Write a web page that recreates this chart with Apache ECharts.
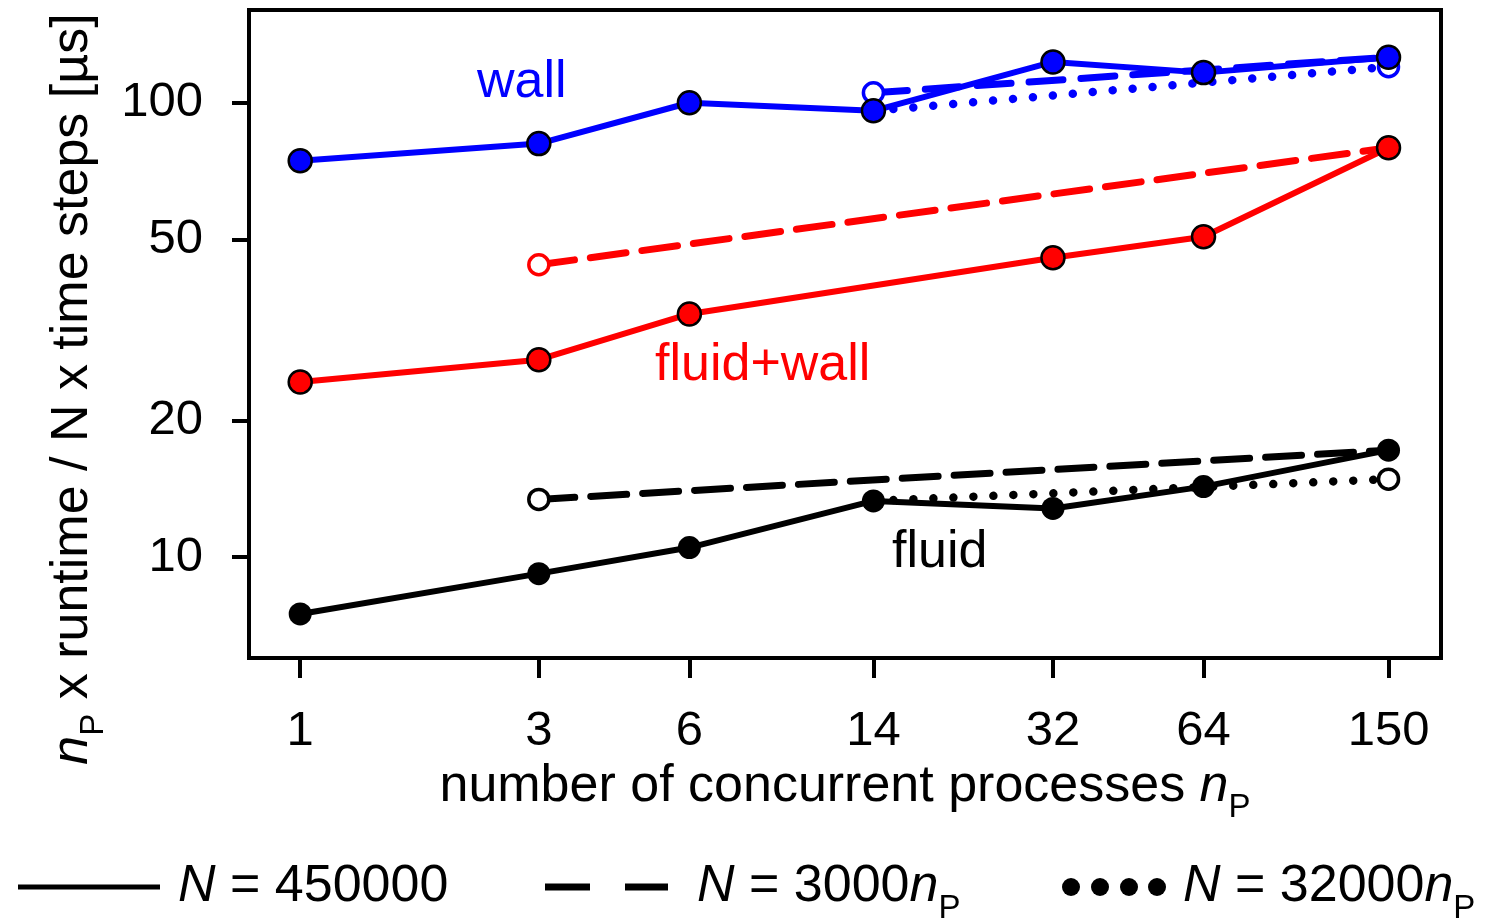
<!DOCTYPE html>
<html>
<head>
<meta charset="utf-8">
<script src="https://cdn.jsdelivr.net/npm/echarts@6/dist/echarts.min.js"></script>
<style>
html, body { margin: 0; padding: 0; background: #fff; }
#main { width: 1491px; height: 920px; }
</style>
</head>
<body>
<div id="main"></div>
<script>
// number of concurrent processes
var procs = [1, 3, 6, 14, 32, 64, 150];
var yTicks = [10, 20, 50, 100];

// N = 450000 (solid)
var fluidFixed = [7.5, 9.2, 10.5, 13.3, 12.8, 14.3, 17.2];
var fluidWallFixed = [24.3, 27.2, 34.3, null, 45.6, 50.7, 79.6];
var wallFixed = [74.5, 81.3, 100, 96, 123, 116.5, 126];

// N = 3000 nP (dashed) : [first, last] at procs given
var dashedProcs = { fluid: [3, 150], fluidWall: [3, 150], wall: [14, 150] };
var fluidDashed = [13.4, 17.2];
var fluidWallDashed = [44.0, 79.6];
var wallDashed = [105.2, 126];

// N = 32000 nP (dotted)
var dottedProcs = [14, 150];
var fluidDotted = [13.3, 14.85];
var wallDotted = [96, 120];

var BLUE = '#0000ff', RED = '#ff0000', BLACK = '#000000';

function pairs(xs, ys) {
    var out = [];
    for (var i = 0; i < xs.length; i++) {
        if (ys[i] != null) out.push([xs[i], ys[i]]);
    }
    return out;
}

function solid(name, ys, color) {
    return {
        name: name, type: 'line', data: pairs(procs, ys), z: 5,
        symbol: 'circle', symbolSize: 23,
        lineStyle: { color: color, width: 6 },
        itemStyle: { color: color, borderColor: '#000', borderWidth: color === BLACK ? 0 : 2.5 },
        animation: false
    };
}

// open circle on one end, nothing on the other
function broken(name, xs, ys, color, dash, width, openAt) {
    var d = pairs(xs, ys).map(function (p, i) {
        return { value: p, symbol: i === openAt ? 'circle' : 'none' };
    });
    return {
        name: name, type: 'line', data: d, z: 3,
        symbolSize: 20,
        lineStyle: { color: color, width: width, type: dash, cap: 'round' },
        itemStyle: { color: '#fff', borderColor: color, borderWidth: 3.5 },
        animation: false
    };
}

var myChart = echarts.init(document.getElementById('main'));

var font = 'Liberation Sans, Arial, sans-serif';
var FS = 52;
var rich = {
    i: { fontStyle: 'italic', fontSize: FS, fontFamily: font, color: '#000', padding: [0, 0, 12, 0], verticalAlign: 'bottom' },
    t: { fontSize: FS, fontFamily: font, color: '#000', padding: [0, 0, 12, 0], verticalAlign: 'bottom' },
    s: { fontSize: 33, fontFamily: font, color: '#000', verticalAlign: 'bottom', lineHeight: 34 }
};

var option = {
    backgroundColor: '#fff',
    grid: {
        left: 249, right: 50, top: 10, bottom: 262,
        show: true, borderColor: '#000', borderWidth: 4, backgroundColor: 'transparent'
    },
    xAxis: {
        type: 'log', logBase: 10, min: 0.79, max: 191,
        name: '{t|number of concurrent processes }{i|n}{s|P}',
        nameLocation: 'middle', nameGap: 98,
        nameTextStyle: { rich: rich },
        axisLine: { show: true, lineStyle: { color: '#000', width: 4 } },
        axisTick: { show: true, length: 20, lineStyle: { color: '#000', width: 4 }, customValues: procs },
        axisLabel: {
            customValues: procs, margin: 49, fontSize: 49, fontFamily: font, color: '#000',
            formatter: function (v) { return String(Math.round(v)); }
        },
        splitLine: { show: false },
        minorTick: { show: false }
    },
    yAxis: {
        type: 'log', logBase: 10, min: 6, max: 160,
        name: '{i|n}{s|P}{t| x runtime / N x time steps [µs]}',
        nameLocation: 'middle', nameGap: 128, nameRotate: 90,
        nameTextStyle: { rich: rich, padding: [0, 110, 0, 0] },
        axisLine: { show: true, lineStyle: { color: '#000', width: 4 } },
        axisTick: { show: true, length: 17, lineStyle: { color: '#000', width: 4 }, customValues: yTicks },
        axisLabel: {
            customValues: yTicks, margin: 46, fontSize: 49, fontFamily: font, color: '#000',
            formatter: function (v) { return String(Math.round(v)); }
        },
        splitLine: { show: false },
        minorTick: { show: false }
    },
    graphic: [
        { type: 'text', left: 477, top: 57, style: { text: 'wall', fill: BLUE, font: FS + 'px ' + font } },
        { type: 'text', left: 655, top: 340, style: { text: 'fluid+wall', fill: RED, font: FS + 'px ' + font } },
        { type: 'text', left: 892, top: 527, style: { text: 'fluid', fill: BLACK, font: FS + 'px ' + font } },
        // legend
        { type: 'line', shape: { x1: 18, y1: 887, x2: 160, y2: 887 }, style: { stroke: '#000', lineWidth: 5 } },
        { type: 'text', left: 178, top: 861, style: { text: '{i|N}{t| = 450000}', rich: rich } },
        { type: 'line', shape: { x1: 545, y1: 887, x2: 590, y2: 887 }, style: { stroke: '#000', lineWidth: 7 } },
        { type: 'line', shape: { x1: 625, y1: 887, x2: 668, y2: 887 }, style: { stroke: '#000', lineWidth: 7 } },
        { type: 'text', left: 697, top: 861, style: { text: '{i|N}{t| = 3000}{i|n}{s|P}', rich: rich } },
        { type: 'circle', shape: { cx: 1071, cy: 887, r: 9 }, style: { fill: '#000' } },
        { type: 'circle', shape: { cx: 1100, cy: 887, r: 9 }, style: { fill: '#000' } },
        { type: 'circle', shape: { cx: 1129, cy: 887, r: 9 }, style: { fill: '#000' } },
        { type: 'circle', shape: { cx: 1157, cy: 887, r: 9 }, style: { fill: '#000' } },
        { type: 'text', left: 1183, top: 861, style: { text: '{i|N}{t| = 32000}{i|n}{s|P}', rich: rich } }
    ],
    series: [
        broken('fluid 3000nP', dashedProcs.fluid, fluidDashed, BLACK, [36, 16], 7, 0),
        broken('fluid+wall 3000nP', dashedProcs.fluidWall, fluidWallDashed, RED, [36, 16], 7, 0),
        broken('wall 3000nP', dashedProcs.wall, wallDashed, BLUE, [34, 18], 7, 0),
        broken('fluid 32000nP', dottedProcs, fluidDotted, BLACK, [0.01, 20], 8.5, 1),
        broken('wall 32000nP', dottedProcs, wallDotted, BLUE, [0.01, 20], 8.5, 1),
        solid('fluid', fluidFixed, BLACK),
        solid('fluid+wall', fluidWallFixed, RED),
        solid('wall', wallFixed, BLUE)
    ]
};

myChart.setOption(option);
</script>
</body>
</html>
